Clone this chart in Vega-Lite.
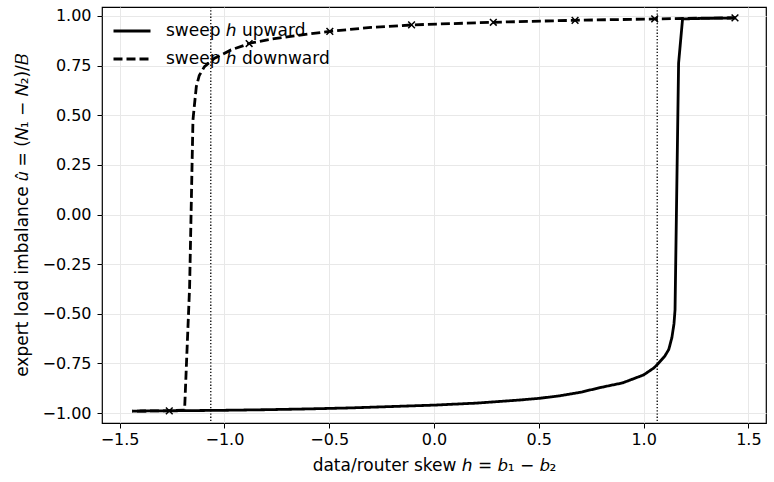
{
  "$schema": "https://vega.github.io/schema/vega-lite/v6.json",
  "width": 664,
  "height": 416,
  "autosize": "none",
  "padding": {"left": 102, "top": 7, "right": 8, "bottom": 59},
  "background": "white",
  "config": {
    "font": "DejaVu Sans",
    "view": {"stroke": "black", "strokeWidth": 1.2},
    "axis": {
      "domain": false,
      "labelFont": "DejaVu Sans",
      "labelFontSize": 16,
      "labelColor": "black",
      "titleFont": "DejaVu Sans",
      "titleFontSize": 17,
      "titleFontWeight": "normal",
      "titleColor": "black",
      "tickColor": "black",
      "tickSize": 5,
      "tickWidth": 1,
      "gridColor": "#e8e8e8",
      "gridWidth": 1
    },
    "legend": {
      "labelFont": "DejaVu Sans",
      "labelFontSize": 17,
      "labelColor": "black"
    }
  },
  "datasets": {
    "curves": [
      {"h": -1.44, "u": -0.990, "series": "sweep ℎ upward"},
      {"h": -1.2, "u": -0.988, "series": "sweep ℎ upward"},
      {"h": -1.0, "u": -0.986, "series": "sweep ℎ upward"},
      {"h": -0.8, "u": -0.983, "series": "sweep ℎ upward"},
      {"h": -0.6, "u": -0.979, "series": "sweep ℎ upward"},
      {"h": -0.4, "u": -0.974, "series": "sweep ℎ upward"},
      {"h": -0.2, "u": -0.967, "series": "sweep ℎ upward"},
      {"h": 0.0, "u": -0.960, "series": "sweep ℎ upward"},
      {"h": 0.2, "u": -0.950, "series": "sweep ℎ upward"},
      {"h": 0.4, "u": -0.935, "series": "sweep ℎ upward"},
      {"h": 0.5, "u": -0.926, "series": "sweep ℎ upward"},
      {"h": 0.6, "u": -0.913, "series": "sweep ℎ upward"},
      {"h": 0.7, "u": -0.895, "series": "sweep ℎ upward"},
      {"h": 0.8, "u": -0.870, "series": "sweep ℎ upward"},
      {"h": 0.9, "u": -0.848, "series": "sweep ℎ upward"},
      {"h": 1.0, "u": -0.808, "series": "sweep ℎ upward"},
      {"h": 1.05, "u": -0.772, "series": "sweep ℎ upward"},
      {"h": 1.07, "u": -0.750, "series": "sweep ℎ upward"},
      {"h": 1.10, "u": -0.715, "series": "sweep ℎ upward"},
      {"h": 1.12, "u": -0.680, "series": "sweep ℎ upward"},
      {"h": 1.135, "u": -0.620, "series": "sweep ℎ upward"},
      {"h": 1.145, "u": -0.550, "series": "sweep ℎ upward"},
      {"h": 1.15, "u": -0.480, "series": "sweep ℎ upward"},
      {"h": 1.167, "u": 0.763, "series": "sweep ℎ upward"},
      {"h": 1.186, "u": 0.985, "series": "sweep ℎ upward"},
      {"h": 1.3, "u": 0.988, "series": "sweep ℎ upward"},
      {"h": 1.44, "u": 0.990, "series": "sweep ℎ upward"},
      {"h": 1.44, "u": 0.990, "series": "sweep ℎ downward"},
      {"h": 1.3, "u": 0.989, "series": "sweep ℎ downward"},
      {"h": 1.06, "u": 0.985, "series": "sweep ℎ downward"},
      {"h": 0.67, "u": 0.978, "series": "sweep ℎ downward"},
      {"h": 0.28, "u": 0.968, "series": "sweep ℎ downward"},
      {"h": -0.1, "u": 0.955, "series": "sweep ℎ downward"},
      {"h": -0.3, "u": 0.942, "series": "sweep ℎ downward"},
      {"h": -0.5, "u": 0.922, "series": "sweep ℎ downward"},
      {"h": -0.692, "u": 0.896, "series": "sweep ℎ downward"},
      {"h": -0.777, "u": 0.883, "series": "sweep ℎ downward"},
      {"h": -0.873, "u": 0.864, "series": "sweep ℎ downward"},
      {"h": -0.968, "u": 0.829, "series": "sweep ℎ downward"},
      {"h": -1.047, "u": 0.787, "series": "sweep ℎ downward"},
      {"h": -1.095, "u": 0.745, "series": "sweep ℎ downward"},
      {"h": -1.12, "u": 0.700, "series": "sweep ℎ downward"},
      {"h": -1.134, "u": 0.644, "series": "sweep ℎ downward"},
      {"h": -1.145, "u": 0.530, "series": "sweep ℎ downward"},
      {"h": -1.150, "u": 0.476, "series": "sweep ℎ downward"},
      {"h": -1.166, "u": -0.364, "series": "sweep ℎ downward"},
      {"h": -1.190, "u": -0.985, "series": "sweep ℎ downward"},
      {"h": -1.3, "u": -0.989, "series": "sweep ℎ downward"},
      {"h": -1.44, "u": -0.990, "series": "sweep ℎ downward"}
    ],
    "markers": [
      {"h": 1.436, "u": 0.990},
      {"h": 1.053, "u": 0.985},
      {"h": 0.673, "u": 0.978},
      {"h": 0.283, "u": 0.968},
      {"h": -0.107, "u": 0.955},
      {"h": -0.497, "u": 0.922},
      {"h": -0.882, "u": 0.861},
      {"h": -1.263, "u": -0.989}
    ],
    "vlines": [
      {"h": -1.065},
      {"h": 1.065}
    ]
  },
  "layer": [
    {
      "data": {"name": "vlines"},
      "mark": {"type": "rule", "color": "black", "strokeWidth": 1.3, "strokeDash": [1.3, 1.9]},
      "encoding": {
        "x": {"field": "h", "type": "quantitative", "scale": {"domain": [-1.584, 1.584], "nice": false, "zero": false}}
      }
    },
    {
      "data": {"name": "curves"},
      "mark": {"type": "line", "color": "black", "strokeWidth": 2.8},
      "encoding": {
        "x": {
          "field": "h",
          "type": "quantitative",
          "sort": null,
          "scale": {"domain": [-1.584, 1.584], "nice": false, "zero": false},
          "axis": {
            "values": [-1.5, -1.0, -0.5, 0.0, 0.5, 1.0, 1.5],
            "format": ".1f",
            "labelFontSize": 16,
            "titleFontSize": 17,
            "labelPadding": 3,
            "titlePadding": 10,
            "title": "data/router skew ℎ = 𝑏₁ − 𝑏₂"
          }
        },
        "y": {
          "field": "u",
          "type": "quantitative",
          "scale": {"domain": [-1.05, 1.045], "nice": false, "zero": false},
          "axis": {
            "values": [-1.0, -0.75, -0.5, -0.25, 0.0, 0.25, 0.5, 0.75, 1.0],
            "format": ".2f",
            "labelFontSize": 16,
            "titleFontSize": 17,
            "labelPadding": 6,
            "titlePadding": 10,
            "title": "expert load imbalance 𝑢̂ = (𝑁₁ − 𝑁₂)/𝐵"
          }
        },
        "order": {"field": "idx"},
        "strokeDash": {
          "field": "series",
          "type": "nominal",
          "scale": {"domain": ["sweep ℎ upward", "sweep ℎ downward"], "range": [[1, 0], [9, 4]]},
          "legend": {
            "title": null,
            "orient": "none",
            "legendX": 6,
            "legendY": 0,
            "padding": 4,
            "symbolType": "stroke",
            "symbolSize": 1369,
            "symbolStrokeWidth": 2.8,
            "symbolStrokeColor": "black",
            "labelFontSize": 17,
            "labelFont": "DejaVu Sans",
            "labelColor": "black",
            "labelLimit": 0,
            "labelOffset": 14,
            "rowPadding": 0,
            "fillColor": null,
            "strokeColor": null
          }
        }
      }
    },
    {
      "data": {"name": "markers"},
      "mark": {"type": "point", "shape": "M-1,-1L1,1M-1,1L1,-1", "size": 45, "stroke": "black", "strokeWidth": 1.5, "filled": false, "opacity": 1},
      "encoding": {
        "x": {"field": "h", "type": "quantitative"},
        "y": {"field": "u", "type": "quantitative"}
      }
    }
  ]
}
